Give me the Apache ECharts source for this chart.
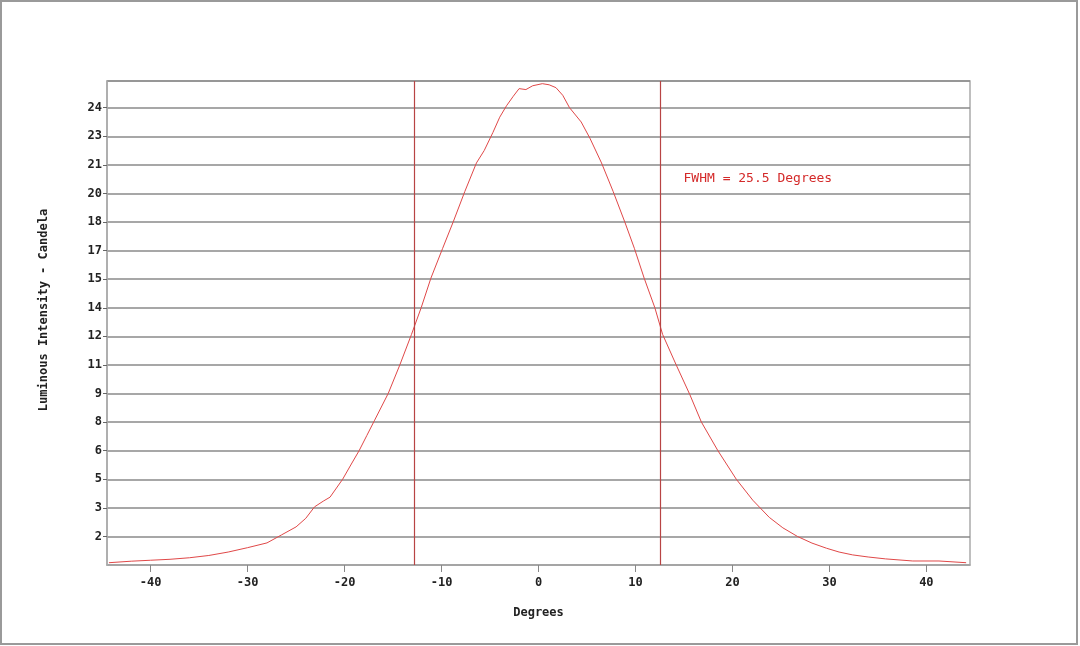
<!DOCTYPE html>
<html>
<head>
<meta charset="utf-8">
<script src="https://cdn.jsdelivr.net/npm/echarts@6.0.0/dist/echarts.min.js"></script>
<style>
  html, body { margin: 0; padding: 0; background: #fff; }
  #chart { width: 1080px; height: 646px; }
</style>
</head>
<body>
<div id="chart"></div>
<script>
// angle (degrees) and luminous intensity (cd)
const degrees = [-44.3, -42, -40, -38, -36, -34, -32, -30, -28, -26.5, -25, -24, -23.1, -22.2, -21.5,
  -20.2, -19.3, -18.5, -17.7, -16.9, -15.5, -14.3, -13.1, -12.1, -11.1, -9.9, -8.8, -7.6, -6.4, -5.6,
  -4.7, -4.0, -3.3, -2.6, -2.0, -1.3, -0.6, 0.4, 1.1, 1.8, 2.5, 3.2, 4.4, 5.3, 6.5, 7.7, 8.9, 9.9,
  10.9, 12.0, 12.8, 14.2, 15.6, 16.8, 18.5, 20.4, 22.1, 23.8, 25.2, 26.7, 28.2, 29.7, 31, 32.4, 34,
  35.8, 38.6, 41.3, 44.1];
const intensity = [0.12, 0.2, 0.25, 0.3, 0.38, 0.5, 0.68, 0.91, 1.16, 1.58, 2.0, 2.45, 3.05, 3.35, 3.56,
  4.5, 5.3, 6.0, 6.8, 7.6, 9.0, 10.5, 12.1, 13.5, 15.05, 16.6, 18.0, 19.6, 21.1, 21.75,
  22.7, 23.5, 24.1, 24.6, 25.0, 24.95, 25.15, 25.26, 25.2, 25.05, 24.65, 24.0, 23.25, 22.4, 21.1, 19.6, 18.0, 16.6,
  15.05, 13.5, 12.1, 10.5, 8.95, 7.5, 6.0, 4.5, 3.4, 2.5, 1.95, 1.5, 1.15, 0.88, 0.68, 0.53, 0.42,
  0.32, 0.21, 0.21, 0.12];

const xTicks = [-40, -30, -20, -10, 0, 10, 20, 30, 40];
const halfMaxLines = [-12.85, 12.6];
const fwhmText = "FWHM = 25.5 Degrees";
const fwhmAt = [14.85, 20.3];

const mono = "DejaVu Sans Mono";
const lineRed = "#b84444";

const chart = echarts.init(document.getElementById("chart"));

const option = {
  backgroundColor: "#fff",
  animation: false,
  grid: {
    left: 107,
    right: 110,
    top: 81,
    bottom: 81,
    show: true,
    borderColor: "#aaa",
    borderWidth: 1.5
  },
  xAxis: {
    type: "value",
    min: -44.5,
    max: 44.5,
    name: "Degrees",
    nameLocation: "middle",
    nameGap: 42,
    nameTextStyle: { fontFamily: mono, fontSize: 12, fontWeight: "bold", color: "#222" },
    axisLine: { onZero: false, lineStyle: { color: "#aaa", width: 1.5 } },
    axisTick: { customValues: xTicks, length: 7, lineStyle: { color: "#888" } },
    axisLabel: {
      customValues: xTicks,
      margin: 12,
      fontFamily: mono,
      fontSize: 12,
      fontWeight: "bold",
      color: "#222"
    },
    splitLine: { show: false }
  },
  yAxis: {
    type: "value",
    min: 0,
    max: 25.4,
    interval: 1.5,
    name: "Luminous Intensity - Candela",
    nameLocation: "middle",
    nameGap: 57,
    nameTextStyle: {
      fontFamily: mono,
      fontSize: 12,
      fontWeight: "bold",
      color: "#222",
      padding: [0, 0, 0, 26]
    },
    axisLine: { show: true, onZero: false, lineStyle: { color: "#aaa", width: 1.5 } },
    axisTick: { show: true, length: 4, lineStyle: { color: "#666" } },
    axisLabel: {
      showMinLabel: false,
      showMaxLabel: false,
      margin: 5,
      fontFamily: mono,
      fontSize: 12,
      fontWeight: "bold",
      color: "#222",
      formatter: function (v) { return String(Math.round(v)); }
    },
    splitLine: { lineStyle: { color: "#8a8a8a", width: 1.5 } }
  },
  series: [
    {
      type: "line",
      data: degrees.map(function (d, i) { return [d, intensity[i]]; }),
      showSymbol: false,
      smooth: false,
      lineStyle: { color: "#e04848", width: 1 },
      markLine: {
        silent: true,
        symbol: ["none", "none"],
        label: { show: false },
        emphasis: { disabled: true },
        data: halfMaxLines.map(function (x) {
          return { xAxis: x, lineStyle: { color: lineRed, width: 1.2, type: "solid", opacity: 1 } };
        })
      },
      markPoint: {
        silent: true,
        symbol: "circle",
        symbolSize: 2,
        itemStyle: { color: "rgba(0,0,0,0)" },
        data: [{
          coord: fwhmAt,
          label: {
            show: true,
            position: "right",
            distance: 0,
            formatter: fwhmText,
            fontFamily: mono,
            fontSize: 13,
            color: "#d42a2a"
          }
        }]
      }
    }
  ],
  graphic: [
    {
      type: "rect",
      shape: { x: 1, y: 1, width: 1076, height: 643 },
      style: { fill: "none", stroke: "#9a9a9a", lineWidth: 2 },
      silent: true
    }
  ]
};

chart.setOption(option);
</script>
</body>
</html>
